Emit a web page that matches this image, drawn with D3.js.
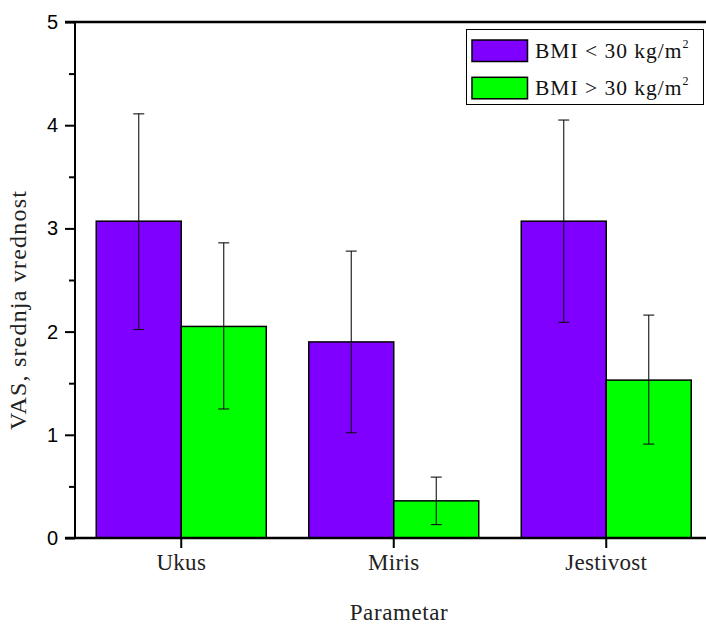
<!DOCTYPE html>
<html>
<head>
<meta charset="utf-8">
<script src="https://cdn.jsdelivr.net/npm/d3@7"></script>
<style>
  html, body { margin: 0; padding: 0; background: #fff; }
  svg { display: block; }
</style>
</head>
<body>
<svg id="chart" width="706" height="627"></svg>
<script>
const categories = ["Ukus", "Miris", "Jestivost"];
const seriesNames = ["BMI < 30 kg/m", "BMI > 30 kg/m"];
const seriesColors = ["#7F00FF", "#00FF00"];
const meansLow = [3.07, 1.90, 3.07];
const errTopLow = [4.11, 2.78, 4.05];
const errBotLow = [2.02, 1.02, 2.09];
const meansHigh = [2.05, 0.36, 1.53];
const errTopHigh = [2.86, 0.59, 2.16];
const errBotHigh = [1.25, 0.13, 0.91];
const yTicks = [0, 1, 2, 3, 4, 5];
const yMinorTicks = [0.5, 1.5, 2.5, 3.5, 4.5];
const xTitle = "Parametar";
const yTitle = "VAS, srednja vrednost";

const series = [
  { name: seriesNames[0], color: seriesColors[0], means: meansLow, top: errTopLow, bot: errBotLow },
  { name: seriesNames[1], color: seriesColors[1], means: meansHigh, top: errTopHigh, bot: errBotHigh }
];

const svg = d3.select("#chart");
const pLeft = 75, pTop = 22, pBottom = 538;
const serif = "Liberation Serif, Times New Roman, serif";
const sans = "Liberation Sans, Arial, sans-serif";

const x = d3.scaleBand().domain(categories).range([pLeft, pLeft + 637.5]).paddingInner(0.2).paddingOuter(0.1);
const xs = d3.scaleBand().domain([0, 1]).range([0, x.bandwidth()]);
const y = d3.scaleLinear().domain([0, 5]).range([pBottom, pTop]);

// Bars
series.forEach((s, si) => {
  const g = svg.append("g");
  g.selectAll("rect").data(categories).enter().append("rect")
    .attr("x", d => x(d) + xs(si))
    .attr("y", (d, i) => y(s.means[i]))
    .attr("width", xs.bandwidth())
    .attr("height", (d, i) => y(0) - y(s.means[i]))
    .attr("fill", s.color)
    .attr("stroke", "#000")
    .attr("stroke-width", 1.5);
});

// Error bars
series.forEach((s, si) => {
  const g = svg.append("g").attr("stroke", "#111").attr("stroke-width", 1.1);
  categories.forEach((c, i) => {
    const cx = x(c) + xs(si) + xs.bandwidth() / 2;
    g.append("line").attr("x1", cx).attr("x2", cx).attr("y1", y(s.top[i])).attr("y2", y(s.bot[i]));
    g.append("line").attr("x1", cx - 5.5).attr("x2", cx + 5.5).attr("y1", y(s.top[i])).attr("y2", y(s.top[i]));
    g.append("line").attr("x1", cx - 5.5).attr("x2", cx + 5.5).attr("y1", y(s.bot[i])).attr("y2", y(s.bot[i]));
  });
});

// Y axis
const yAxis = d3.axisLeft(y).tickValues(yTicks).tickFormat(d3.format("d")).tickSize(10).tickPadding(7);
const yg = svg.append("g").attr("transform", `translate(${pLeft},0)`).call(yAxis);
yg.select(".domain").attr("stroke-width", 2).attr("d", `M0,${pBottom}V${pTop}`);
yg.selectAll(".tick line").attr("stroke-width", 2);
yg.selectAll(".tick text").attr("font-family", sans).attr("font-size", 20).attr("fill", "#000");
svg.append("g").attr("transform", `translate(${pLeft},0)`)
  .call(d3.axisLeft(y).tickValues(yMinorTicks).tickSize(6).tickFormat(""))
  .call(g => g.select(".domain").remove())
  .selectAll("line").attr("stroke-width", 2);

// X axis
const xAxis = d3.axisBottom(x).tickSize(10).tickPadding(6).tickSizeOuter(0);
const xg = svg.append("g").attr("transform", `translate(0,${pBottom})`).call(xAxis);
xg.select(".domain").attr("stroke-width", 2.5).attr("d", `M65,0H706`);
xg.selectAll(".tick line").attr("stroke-width", 2);
xg.selectAll(".tick text").attr("font-family", serif).attr("font-size", 23)
  .attr("letter-spacing", 0.3).attr("fill", "#222").attr("dy", null).attr("y", 32);

// Top frame
svg.append("line").attr("x1", 65).attr("x2", 706).attr("y1", pTop).attr("y2", pTop)
  .attr("stroke", "#000").attr("stroke-width", 2.5);

// Titles
svg.append("text").attr("x", 399).attr("y", 620).attr("text-anchor", "middle")
  .attr("font-family", serif).attr("font-size", 23).attr("letter-spacing", 0.6)
  .attr("fill", "#222").text(xTitle);
svg.append("text").attr("transform", "translate(26,310) rotate(-90)").attr("text-anchor", "middle")
  .attr("font-family", serif).attr("font-size", 24).attr("letter-spacing", 1.2)
  .attr("fill", "#222").text(yTitle);

// Legend
const lg = svg.append("g");
lg.append("rect").attr("x", 466.5).attr("y", 29.5).attr("width", 237).attr("height", 75)
  .attr("fill", "#fff").attr("stroke", "#000").attr("stroke-width", 1);
series.forEach((s, i) => {
  const yy = 40 + i * 37.3;
  lg.append("rect").attr("x", 472).attr("y", yy).attr("width", 55.5).attr("height", 21.5)
    .attr("fill", s.color).attr("stroke", "#000").attr("stroke-width", 1.5);
  const t = lg.append("text").attr("x", 535).attr("y", yy + 17.5)
    .attr("font-family", serif).attr("font-size", 21.5).attr("letter-spacing", 1)
    .attr("fill", "#111");
  t.append("tspan").text(s.name);
  t.append("tspan").attr("font-size", 12).attr("dy", -10).text("2");
});
</script>
</body>
</html>
